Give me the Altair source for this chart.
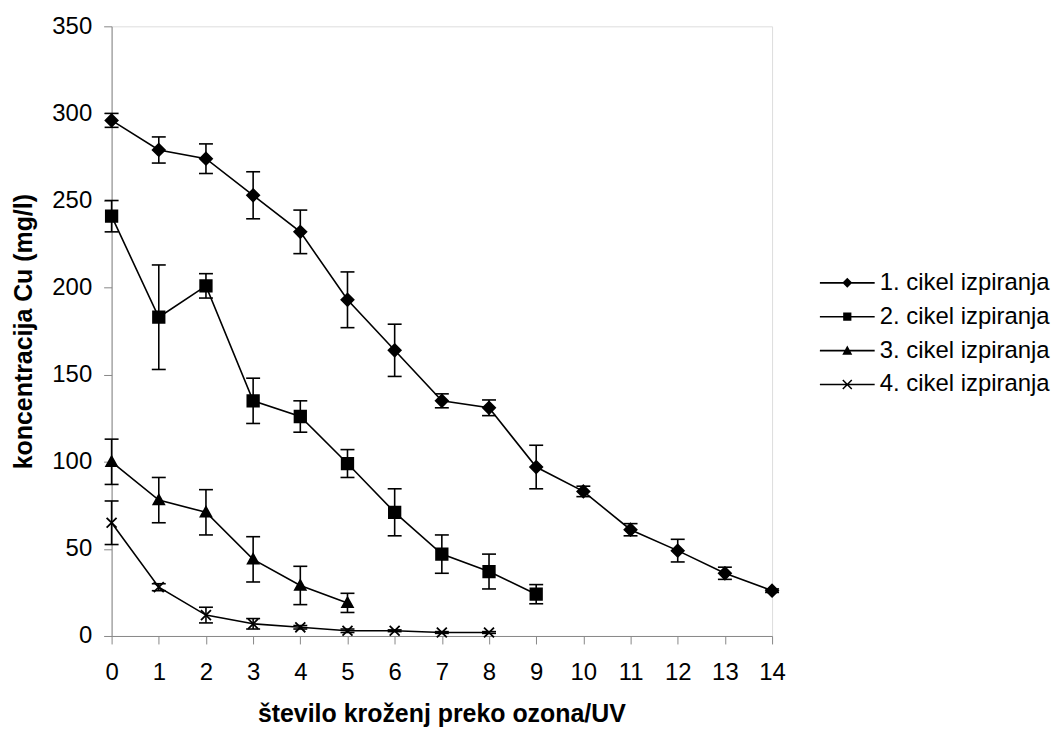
import altair as alt
import pandas as pd

series_names = ["1. cikel izpiranja", "2. cikel izpiranja", "3. cikel izpiranja", "4. cikel izpiranja"]

s1 = [296, 279, 274, 253, 232, 193, 164, 135, 131, 97, 83, 61, 49, 36, 26]
e1 = [4, 7.5, 8.5, 13.5, 12.5, 16, 15, 4, 4.5, 12.5, 3, 3.5, 6.5, 3.5, 1]
s2 = [241, 183, 201, 135, 126, 99, 71, 47, 37, 24]
e2 = [9, 30, 7, 13, 9, 8, 13.5, 11, 10, 5.5]
s3 = [100, 78, 71, 44, 29, 19]
e3 = [13, 13, 13, 13, 11, 5.5]
s4 = [65, 28, 12, 7, 5, 3, 3, 2, 2]
e4 = [12.5, 2, 4.5, 3, 1, 1, 0.5, 0.5, 0.5]

x_ticks = list(range(15))
y_ticks = [0, 50, 100, 150, 200, 250, 300, 350]

rows = []
for name, vals, errs in zip(series_names, [s1, s2, s3, s4], [e1, e2, e3, e4]):
    for i, (v, e) in enumerate(zip(vals, errs)):
        rows.append(dict(series=name, x=i, y=v, lo=v - e, hi=v + e))
df = pd.DataFrame(rows)

marker_paths = ["M0,-1L1,0L0,1L-1,0Z", "M-1,-1H1V1H-1Z", "M0,-1L1,0.8L-1,0.8Z", "M-1,-1L1,1M-1,1L1,-1"]
marker_sizes = [150, 100, 140, 110]
# legend symbols: a thin filled bar (the line) with the marker on it
BAR = "M-2.2,-0.065H2.2V0.065H-2.2Z"
legend_paths = [
    BAR + "M0,-0.4L0.4,0L0,0.4L-0.4,0Z",
    BAR + "M-0.33,-0.33H0.33V0.33H-0.33Z",
    BAR + "M0,-0.4L0.4,0.33L-0.4,0.33Z",
    BAR + "M-0.318,-0.402L0.402,0.318L0.318,0.402L-0.402,-0.318Z"
        + "M-0.402,0.318L0.318,-0.402L0.402,-0.318L-0.318,0.402Z",
]

FONT = "Liberation Sans"

x_enc = alt.X(
    "x:Q",
    scale=alt.Scale(domain=[0, 14], nice=False, zero=False),
    axis=alt.Axis(
        values=x_ticks, title="število kroženj preko ozona/UV", grid=False,
        labelFontSize=24, titleFontSize=25, titleFontWeight="bold",
        tickSize=8, labelPadding=17, titleX=331, titleY=86,
        titleBaseline="alphabetic", labelFlush=False,
    ),
)
y_scale = alt.Scale(domain=[0, 350], nice=False)
y_axis = alt.Axis(
    values=y_ticks, title="koncentracija Cu (mg/l)", grid=False,
    labelFontSize=24, titleFontSize=25, titleFontWeight="bold",
    tickSize=8, labelPadding=12, titleX=-88, titleY=306,
    titleBaseline="middle", titleAngle=270,
)

base = alt.Chart(df)

lines = base.mark_line(color="black", strokeWidth=1.6).encode(
    x=x_enc, y=alt.Y("y:Q", scale=y_scale, axis=y_axis), detail="series:N", order="x:Q"
)
err = base.mark_rule(color="black", strokeWidth=1.6).encode(
    x="x:Q", y="lo:Q", y2="hi:Q"
)
cap_lo = base.mark_point(shape="M-1,0H1", size=196, color="black", strokeWidth=1.6, opacity=1).encode(
    x="x:Q", y="lo:Q"
)
cap_hi = base.mark_point(shape="M-1,0H1", size=196, color="black", strokeWidth=1.6, opacity=1).encode(
    x="x:Q", y="hi:Q"
)
points = base.mark_point(fill="black", stroke="black", strokeWidth=1.8, opacity=1).encode(
    x="x:Q", y="y:Q",
    shape=alt.Shape("series:N", scale=alt.Scale(domain=series_names, range=marker_paths), legend=None),
    size=alt.Size("series:N", scale=alt.Scale(domain=series_names, range=marker_sizes), legend=None),
)
legend_layer = base.mark_point(fill="black", stroke="black", opacity=0).encode(
    x="x:Q", y="y:Q",
    shape=alt.Shape(
        "series:N",
        scale=alt.Scale(domain=series_names, range=legend_paths),
        legend=alt.Legend(
            title=None, orient="none", legendX=726, legendY=245,
            labelFontSize=24, labelFont=FONT, labelColor="black", labelLimit=0,
            symbolSize=625, symbolStrokeWidth=0, symbolFillColor="black",
            symbolOpacity=1, rowPadding=9, labelOffset=20,
        ),
    ),
)

chart = (
    alt.layer(lines, err, cap_lo, cap_hi, points, legend_layer)
    .resolve_scale(shape="independent", size="independent")
    .properties(
        width=663, height=612,
        autosize=alt.AutoSizeParams(type="none"),
        padding={"left": 104, "top": 17, "right": 282, "bottom": 95},
    )
    .configure_view(stroke=None)
    .configure_axis(
        domainColor="black", tickColor="black", labelColor="black", titleColor="black",
        labelFont=FONT, titleFont=FONT, domainWidth=1, tickWidth=1,
    )
    .configure(background="white")
)

chart.save("out.html", embed_options={"renderer": "svg", "actions": False})
